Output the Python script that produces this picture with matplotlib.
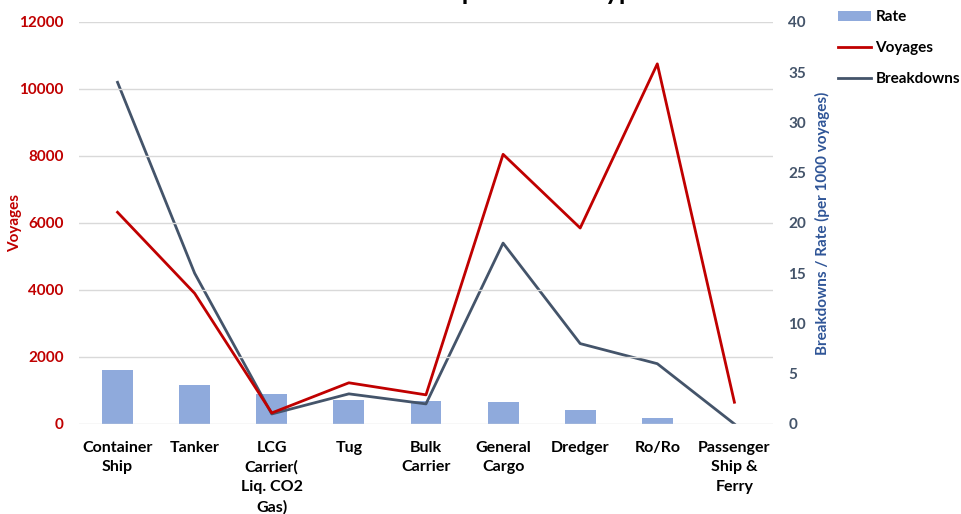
import matplotlib
matplotlib.use('Agg')
import matplotlib.pyplot as plt
from matplotlib.patches import Patch
from matplotlib.lines import Line2D

plt.rcParams['font.family'] = ['Lato', 'DejaVu Sans']
plt.rcParams['font.weight'] = 'bold'

vessel_types = ['Container\nShip', 'Tanker', 'LCG\nCarrier(\nLiq. CO2\nGas)', 'Tug', 'Bulk\nCarrier',
				'General\nCargo', 'Dredger', 'Ro/Ro', 'Passenger\nShip &\nFerry']
voyages = [6320, 3900, 330, 1230, 870, 8050, 5850, 10750, 650]
breakdowns = [34, 15, 1, 3, 2, 18, 8, 6, 0]
rate = [5.37, 3.85, 3.0, 2.4, 2.3, 2.2, 1.37, 0.55, 0]

RED = '#C00000'
SLATE = '#44546A'
BLUE = '#2F5597'
BAR = '#8FAADC'

fig = plt.figure(figsize=(9.62, 5.14), dpi=100)
ax = fig.add_axes([0.0821, 0.1751, 0.7214, 0.7821])
ax2 = ax.twinx()
# voyages axis sits on top so the red line is drawn over the bars
ax.set_zorder(ax2.get_zorder() + 1)
ax.patch.set_visible(False)

x = list(range(len(vessel_types)))
ax2.bar(x, rate, width=0.4, color=BAR, zorder=2)
ax2.plot(x, breakdowns, color=SLATE, linewidth=2.0, zorder=3)
ax.plot(x, voyages, color=RED, linewidth=2.0, zorder=3)

ax.set_xlim(-0.5, len(vessel_types) - 0.5)
ax.set_ylim(0, 12000)
ax.set_yticks(range(0, 12001, 2000))
ax2.set_ylim(0, 40)
ax2.set_yticks(range(0, 41, 5))

ax.grid(axis='y', color='#D9D9D9', linewidth=1.0)
ax.set_axisbelow(True)
for a in (ax, ax2):
	for s in a.spines.values():
		s.set_visible(False)

ax.set_xticks(x)
ax.set_xticklabels(vessel_types, fontsize=11.5, fontweight='bold', linespacing=1.5, va='top')
ax.tick_params(axis='x', length=0, pad=12)
ax.tick_params(axis='y', length=0, pad=11, labelsize=11, labelcolor=RED)
ax2.tick_params(axis='y', length=0, pad=11, labelsize=11, labelcolor=SLATE)
for lbl in ax.get_yticklabels() + ax2.get_yticklabels():
	lbl.set_fontweight('bold')

ax.set_ylabel('Voyages', color=RED, fontsize=11, fontweight='bold')
ax.yaxis.set_label_coords(-0.082, 0.5)
ax2.set_ylabel('Breakdowns / Rate (per 1000 voyages)', color=BLUE, fontsize=11,
			   fontweight='bold', labelpad=6)

fig.text(0.497, 1.0, 'Breakdowns per Vessel Type', ha='center', va='baseline',
		 fontsize=19, fontweight='bold', color='black')

handles = [Patch(facecolor=BAR), Line2D([], [], color=RED, linewidth=2),
		   Line2D([], [], color=SLATE, linewidth=2)]
fig.legend(handles, ['Rate', 'Voyages', 'Breakdowns'], loc='upper left',
		   bbox_to_anchor=(0.871, 0.98), frameon=False,
		   prop={'weight': 'bold', 'size': 11}, handlelength=2.15,
		   handletextpad=0.3, labelspacing=1.1, borderpad=0, borderaxespad=0)

fig.savefig('out.png', dpi=100)
